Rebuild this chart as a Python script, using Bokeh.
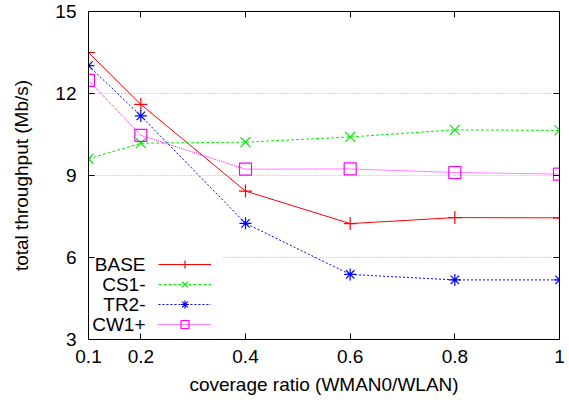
from bokeh.plotting import figure
from bokeh.models import (Range1d, FixedTicker, LinearAxis, Legend, LegendItem,
                          Label, BoxAnnotation)
from bokeh.embed import file_html
from bokeh.resources import INLINE

# ---- data ----
coverage = [0.1, 0.2, 0.4, 0.6, 0.8, 1.0]
base = [13.5, 11.6, 8.43, 7.24, 7.46, 7.45]
cs1 = [9.61, 10.18, 10.22, 10.41, 10.67, 10.65]
tr2 = [13.02, 11.18, 7.25, 5.38, 5.18, 5.18]
cw1 = [12.48, 10.47, 9.23, 9.24, 9.11, 9.05]
series_names = ["BASE", "CS1-", "TR2-", "CW1+"]
x_ticks = [0.1, 0.2, 0.4, 0.6, 0.8, 1.0]
x_tick_labels = ["0.1", "0.2", "0.4", "0.6", "0.8", "1"]
y_ticks = [3, 6, 9, 12, 15]

FONT = "Liberation Sans"
FS = "19px"

p = figure(width=569, height=403, output_backend="svg", toolbar_location=None,
           x_range=Range1d(0.1, 1.0), y_range=Range1d(3, 15),
           min_border_left=88, min_border_right=10, min_border_top=11,
           min_border_bottom=64)
p.outline_line_color = "black"
p.outline_line_width = 1
p.background_fill_color = "white"
p.border_fill_color = "white"

p.xgrid.visible = False
p.ygrid.ticker = FixedTicker(ticks=y_ticks)
p.ygrid.grid_line_color = "#b0b0b0"
p.ygrid.grid_line_dash = "1 2"
p.ygrid.grid_line_width = 1

for ax in (p.xaxis[0], p.yaxis[0]):
    ax.major_tick_in = 6
    ax.major_tick_out = 0
    ax.minor_tick_line_color = None
    ax.major_label_text_font = FONT
    ax.major_label_text_font_size = FS
    ax.major_label_text_color = "black"
    ax.axis_label_text_font = FONT
    ax.axis_label_text_font_size = FS
    ax.axis_label_text_font_style = "normal"
    ax.axis_label_text_color = "black"
    ax.axis_line_color = "black"
    ax.major_tick_line_color = "black"

p.xaxis[0].ticker = FixedTicker(ticks=x_ticks)
p.xaxis[0].major_label_overrides = {t: l for t, l in zip(x_ticks, x_tick_labels)}
p.xaxis[0].major_label_standoff = 10
p.xaxis[0].axis_label = "coverage ratio (WMAN0/WLAN)"
p.xaxis[0].axis_label_standoff = 8
p.yaxis[0].ticker = FixedTicker(ticks=y_ticks)
p.yaxis[0].major_label_standoff = 12
p.yaxis[0].axis_label = "total throughput (Mb/s)"
p.yaxis[0].axis_label_standoff = 20

# mirrored ticks on top and right
top = LinearAxis(ticker=FixedTicker(ticks=x_ticks), major_tick_in=6, major_tick_out=0,
                 minor_tick_line_color=None, major_label_text_alpha=0,
                 major_label_text_font_size="1px",
                 major_label_standoff=0, axis_line_color="black")
right = LinearAxis(ticker=FixedTicker(ticks=y_ticks), major_tick_in=6, major_tick_out=0,
                   minor_tick_line_color=None, major_label_text_alpha=0,
                   major_label_text_font_size="1px",
                   major_label_standoff=0, axis_line_color="black")
p.add_layout(top, "above")
p.add_layout(right, "right")

styles = [
    dict(color="#ff0000", dash="solid", marker="cross", size=13),
    dict(color="#00ee00", dash="3 2", marker="x", size=14),
    dict(color="#0000ff", dash="2 2", marker="asterisk", size=12),
    dict(color="#ff00ff", dash="1 1", marker="square", size=12),
]
items = []
for vals, st in zip([base, cs1, tr2, cw1], styles):
    ln = p.line(coverage, vals, line_color=st["color"], line_width=1, line_dash=st["dash"])
    sc = p.scatter(coverage, vals, marker=st["marker"], size=st["size"],
                   line_color=st["color"], fill_color=None, line_width=1.2)
    items.append(LegendItem(label=" ", renderers=[ln, sc]))

legend = Legend(items=items, location=(70, 5), glyph_width=53, glyph_height=20,
                label_height=20, label_width=0, label_standoff=0, spacing=0,
                padding=0, margin=0, border_line_color=None,
                background_fill_alpha=0, label_text_font_size="10px")
p.add_layout(legend)

# white patch hiding the grid behind the legend labels
p.add_layout(BoxAnnotation(left=0.1, right=0.356, bottom=5.5, top=6.3,
                           fill_color="white", fill_alpha=1, line_color=None,
                           level="underlay"))

for i, name in enumerate(series_names):
    p.add_layout(Label(x=57, y=75 - 20 * i, x_units="screen", y_units="screen",
                       text=name, text_align="right", text_baseline="middle",
                       text_font=FONT, text_font_size=FS, text_color="black"))

open("out.html", "w").write(file_html(p, INLINE))
